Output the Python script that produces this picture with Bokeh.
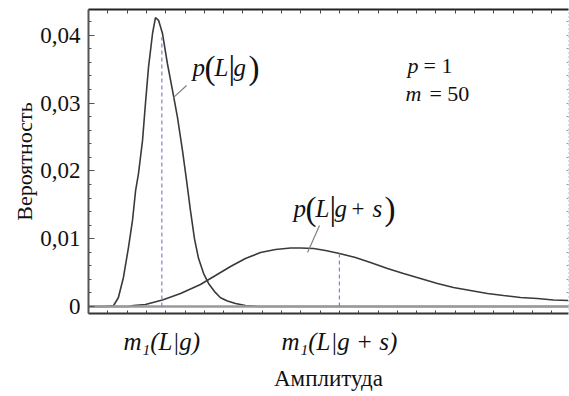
from bokeh.plotting import figure
from bokeh.models import Range1d, LinearAxis, FixedTicker
from bokeh.core.properties import value
from bokeh.embed import file_html
from bokeh.resources import INLINE

# ---- data ----
# narrow distribution p(L|g)
g_x = [0, 0.9, 1.3, 1.55, 1.81, 2.07, 2.28, 2.44, 2.59, 2.8, 2.95, 3.11, 3.32, 3.47,
       3.63, 3.83, 4.09, 4.35, 4.61, 4.87, 5.08, 5.28, 5.49, 5.7, 5.96, 6.22, 6.53,
       6.84, 7.2, 7.62, 8.13, 8.76, 24.87]
g_y = [0, 0, 0.00015, 0.00133, 0.00428, 0.0087, 0.0127, 0.0171, 0.0196, 0.0245, 0.0299,
       0.0353, 0.0403, 0.0426, 0.0422, 0.0403, 0.0358, 0.0319, 0.0279, 0.0230, 0.0186,
       0.0142, 0.0100, 0.0071, 0.0049, 0.0034, 0.0022, 0.0013, 0.0008, 0.00044, 0.00015,
       0, 0]
# broad distribution p(L|g+s)
gs_x = [0, 2.07, 2.33, 2.95, 3.83, 4.77, 5.80, 6.58, 7.36, 8.13, 8.91, 9.69, 10.47, 10.98,
        11.66, 12.28, 13.0, 13.83, 14.61, 15.49, 16.32, 17.2, 18.08, 18.91, 19.79, 20.67,
        21.5, 22.38, 23.26, 24.09, 24.87]
gs_y = [0, 0, 0.00015, 0.0003, 0.00096, 0.00192, 0.00324, 0.00457, 0.0059, 0.00708,
        0.00796, 0.00841, 0.00863, 0.00863, 0.00855, 0.00826, 0.00782, 0.00723, 0.00649,
        0.0056, 0.00487, 0.00413, 0.00339, 0.0028, 0.00236, 0.00192, 0.00162, 0.00133,
        0.00118, 0.00096, 0.00088]
# first moments (dashed markers)
mean_x = [3.8, 13.0]
mean_top = [0.0397, 0.0078]
mean_labels = ["m₁(L|g)", "m₁(L|g + s)"]

y_ticks = [0, 0.01, 0.02, 0.03, 0.04]
y_tick_labels = ["0", "0,01", "0,02", "0,03", "0,04"]
y_minor = [0.002 * k for k in range(0, 22)]
x_minor = list(range(0, 25))
x_lo, x_hi = 0, 24.87
y_lo, y_hi = -0.00103, 0.0438

# annotation anchors (data coords)
lab_g = (5.39, 0.0352)
lab_gs = (10.62, 0.01445)
lead_g = ([4.40], [0.0308], [5.08], [0.0326])
lead_gs = ([11.35], [0.00796], [11.97], [0.01195])
par_p = (16.53, 0.03555)
par_m = (16.42, 0.03142)

FONT = "Liberation Serif"
SERIF = value(FONT)

p = figure(width=569, height=396, x_range=Range1d(x_lo, x_hi), y_range=Range1d(y_lo, y_hi),
           output_backend="svg", toolbar_location=None,
           x_axis_location=None, y_axis_location=None,
           min_border_left=88, min_border_right=1, min_border_top=9, min_border_bottom=83)
p.outline_line_color = None
p.grid.visible = False

# left axis
yaxis = LinearAxis(ticker=FixedTicker(ticks=y_ticks, minor_ticks=y_minor),
                   major_label_overrides={t: l for t, l in zip(y_ticks, y_tick_labels)},
                   axis_label="Вероятность")
yaxis.axis_line_color = "#555555"
yaxis.axis_line_width = 2
yaxis.major_tick_in = 6
yaxis.major_tick_out = 0
yaxis.minor_tick_in = 3
yaxis.minor_tick_out = 0
yaxis.major_tick_line_color = "#555555"
yaxis.minor_tick_line_color = "#555555"
yaxis.major_label_text_font = FONT
yaxis.major_label_text_font_size = "23px"
yaxis.major_label_text_color = "#111111"
yaxis.major_label_standoff = 8
yaxis.axis_label_text_font = FONT
yaxis.axis_label_text_font_size = "22px"
yaxis.axis_label_text_font_style = "normal"
yaxis.axis_label_text_color = "#111111"
yaxis.axis_label_standoff = 0
p.add_layout(yaxis, "left")

# bottom axis
xaxis = LinearAxis(ticker=FixedTicker(ticks=mean_x, minor_ticks=x_minor),
                   major_label_overrides={t: l for t, l in zip(mean_x, mean_labels)},
                   axis_label="Амплитуда")
xaxis.axis_line_color = "#333333"
xaxis.axis_line_width = 2
xaxis.major_tick_line_color = None
xaxis.minor_tick_in = 3
xaxis.minor_tick_out = 0
xaxis.minor_tick_line_color = "#444444"
xaxis.major_label_text_font = FONT
xaxis.major_label_text_font_size = "25px"
xaxis.major_label_text_font_style = "italic"
xaxis.major_label_text_color = "#111111"
xaxis.major_label_standoff = 8
xaxis.axis_label_text_font = FONT
xaxis.axis_label_text_font_size = "23px"
xaxis.axis_label_text_font_style = "normal"
xaxis.axis_label_text_color = "#111111"
xaxis.axis_label_standoff = 8
p.add_layout(xaxis, "below")

# top axis (ticks only)
taxis = LinearAxis(ticker=FixedTicker(ticks=[], minor_ticks=x_minor))
taxis.axis_line_color = "#222222"
taxis.axis_line_width = 2
taxis.minor_tick_in = 4
taxis.minor_tick_out = 0
taxis.minor_tick_line_color = "#444444"
taxis.major_label_standoff = 0
p.add_layout(taxis, "above")

# right axis (dotted, ticks only)
raxis = LinearAxis(ticker=FixedTicker(ticks=[], minor_ticks=y_minor))
raxis.axis_line_color = "#bbbbbb"
raxis.axis_line_dash = "1 3"
raxis.minor_tick_in = 2
raxis.minor_tick_out = 0
raxis.minor_tick_line_color = "#999999"
raxis.major_label_standoff = 0
p.add_layout(raxis, "right")

# curves
p.line(g_x, g_y, line_color="#3a3a3a", line_width=1.6)
p.line(gs_x, gs_y, line_color="#3a3a3a", line_width=1.6)
# zero baseline
p.line([x_lo, x_hi], [0, 0], line_color="#9a9a9a", line_width=2.5)
# dashed moment markers
p.segment(x0=mean_x, y0=[0, 0], x1=mean_x, y1=mean_top, line_color="#8080d0",
          line_dash="4 3", line_width=1.2)
# leader lines
p.segment(x0=lead_g[0], y0=lead_g[1], x1=lead_g[2], y1=lead_g[3], line_color="#808080", line_width=1.2)
p.segment(x0=lead_gs[0], y0=lead_gs[1], x1=lead_gs[2], y1=lead_gs[3], line_color="#808080", line_width=1.2)


def math_label(anchor, parts):
    x, y = anchor
    for txt, style, size, dx in parts:
        p.text(x=[x], y=[y], text=[txt], x_offset=dx, text_font=SERIF,
               text_font_style=style, text_font_size=size, text_color="#111111",
               text_baseline="middle", text_align="left")


math_label(lab_g, [("p", "italic", "25px", 0), ("(", "normal", "33px", 12),
                   ("L", "italic", "25px", 22), ("|", "normal", "33px", 36),
                   ("g", "italic", "25px", 41), (")", "normal", "33px", 56)])
math_label(lab_gs, [("p", "italic", "25px", 0), ("(", "normal", "33px", 12),
                    ("L", "italic", "25px", 22), ("|", "normal", "33px", 36),
                    ("g", "italic", "25px", 41), ("+", "normal", "23px", 58),
                    ("s", "italic", "25px", 79), (")", "normal", "33px", 91)])
math_label(par_p, [("p", "italic", "22px", 0), ("= 1", "normal", "22px", 16)])
math_label(par_m, [("m", "italic", "22px", 0), ("= 50", "normal", "22px", 24)])

open("out.html", "w").write(file_html(p, INLINE))
